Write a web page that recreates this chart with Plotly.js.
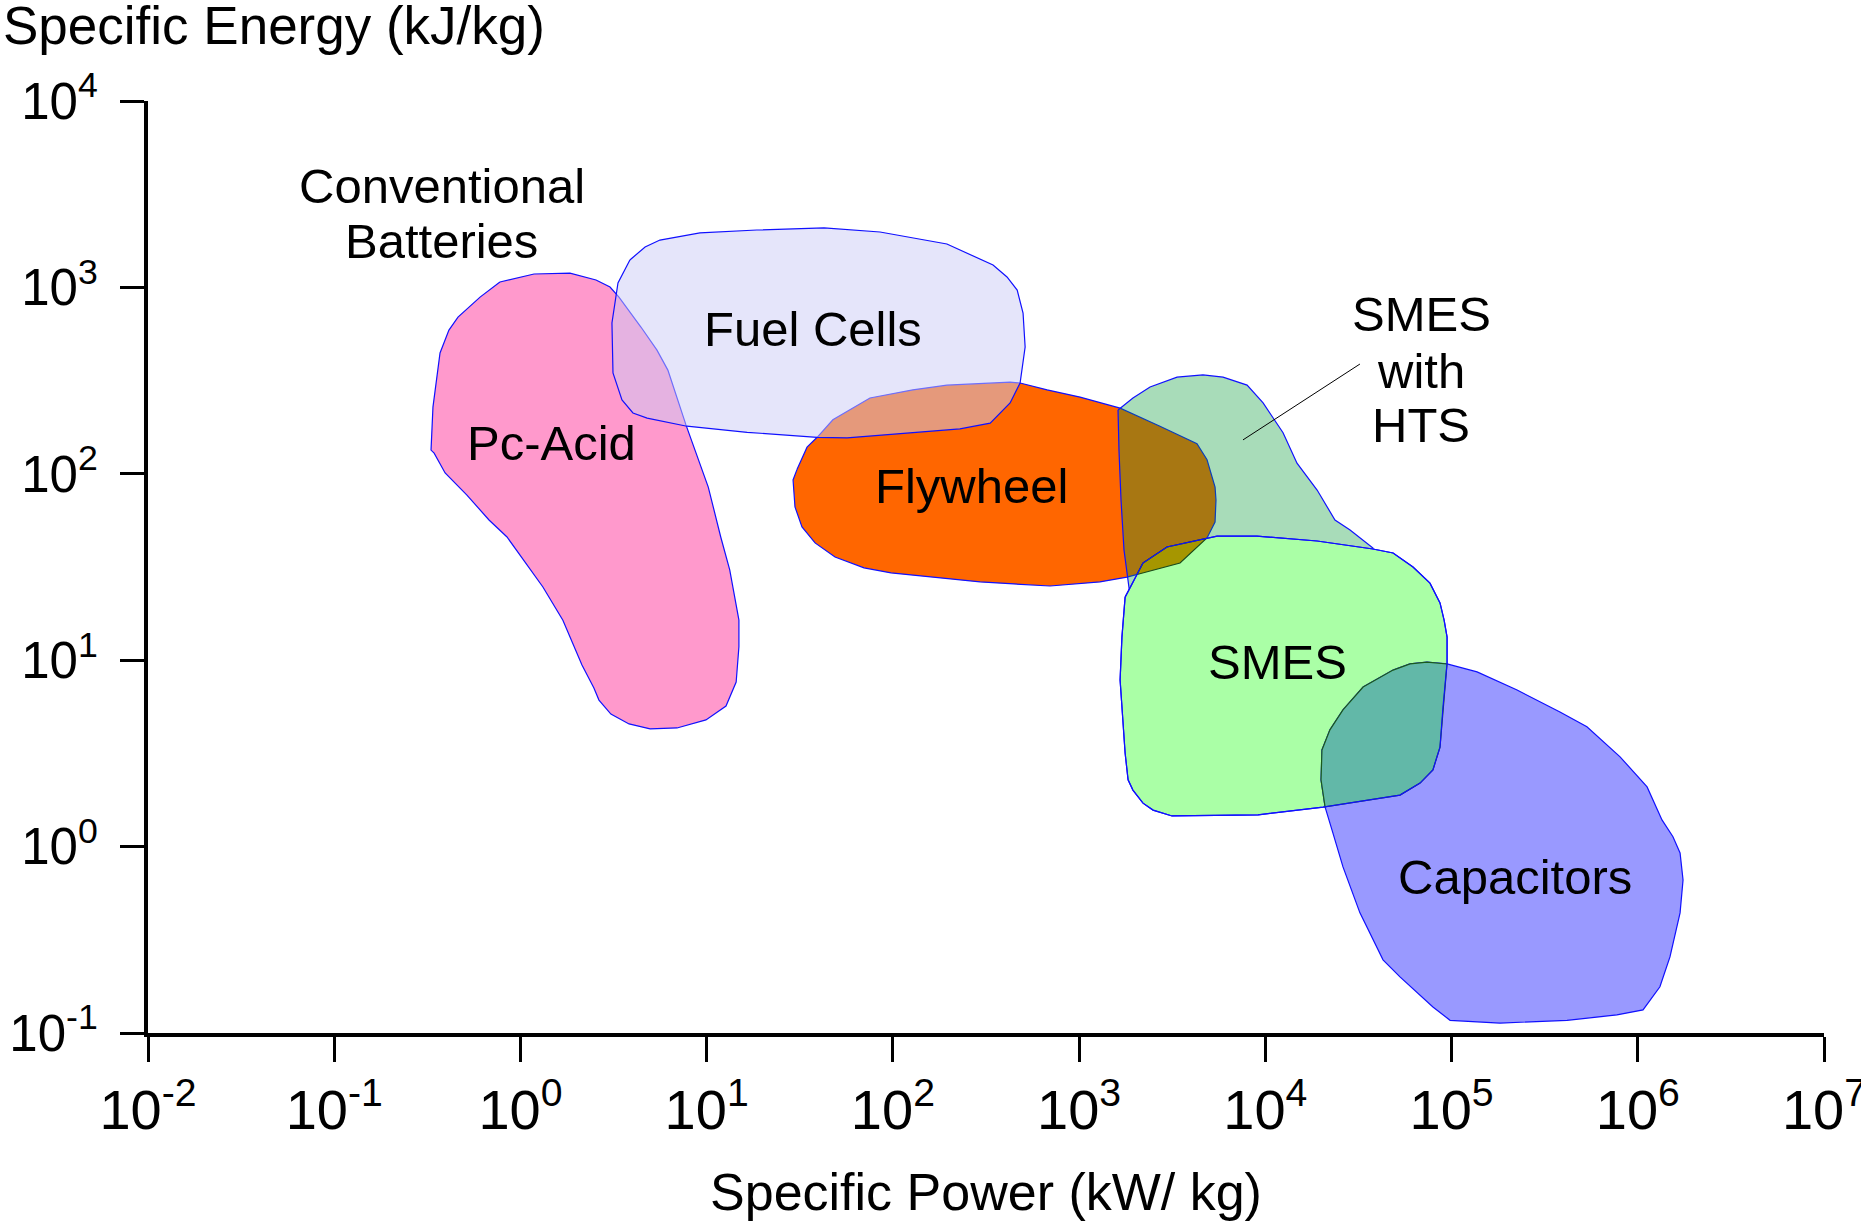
<!DOCTYPE html>
<html><head><meta charset="utf-8">
<script src="https://cdn.plot.ly/plotly-3.0.1.min.js"></script>
<style>html,body{margin:0;padding:0;background:#fff;}#chart{width:1861px;height:1221px;}</style>
</head><body><div id="chart"></div>
<script>
// Region outlines: specific power (kW/kg) and specific energy (kJ/kg)
const pcAcidPower = [0.776,1.183,1.845,2.546,3.027,3.381,4.436,5.41,6.19,7.74,10.2,11.9,13.3,14.9,14.9,14.4,12.7,9.91,6.93,4.97,3.83,3.06,2.64,2.48,2.14,1.69,1.32,0.847,0.678,0.516,0.394,0.344,0.331,0.339,0.370,0.413,0.462,0.607];
const pcAcidEnergy = [1069,1180,1194,1096,1005,887,613,461,360,183,84.9,45.8,30.5,16.4,11.8,7.64,5.68,4.78,4.33,4.28,4.55,5.14,6.11,7.10,9.42,16.4,24.7,45.8,56.5,76.9,101,129,134,228,445,590,693,887];

const fuelCellPower = [3.87,4.67,5.61,9.20,18.6,42.7,85.3,152,195,345,410,465,500,513,482,426,333,229,128,56.8,39.2,16.5,7.83,4.79,4.02,3.51,3.14,3.10,3.34];
const fuelCellEnergy = [1403,1648,1795,1959,2032,2084,1982,1795,1710,1318,1138,968,729,479,307,240,187,174,166,156,157,167,180,199,212,249,348,644,1057];

const flywheelPower = [30.5,34.6,39.2,47.6,75.3,128,195,426,482,673,1012,1660,2717,4295,4864,5370,5433,5370,4864,3483,1807,1294,698,294,97.7,70.0,48.9,38.2,32.5,29.8,29.1];
const flywheelEnergy = [105,139,157,195,255,282,299,310,307,282,258,225,180,145,119,84.9,72.3,55.1,45.3,33.2,27.9,26.3,25.0,26.3,29.4,31.3,35.8,42.6,51.9,66.4,92.7];

const smesHtsPower = [1618,1946,2404,3357,4624,5929,7980,9727,12450,14790,18970,23660,28510,37840,37840,15350,3076,1875,1742,1679,1637];
const smesHtsEnergy = [220,255,292,330,339,330,299,240,166,114,81.8,56.5,49.9,40.0,36.2,28.6,23.8,22.4,39.0,72.3,134];

const smesPower = [1766,2203,2965,5508,9016,18970,37840,48530,62090,76560,86700,91200,94620,94620,89950,86700,79430,67760,52840,35160,20420,9141,3155,2495,2203,1945,1832,1766,1698,1660,1698];
const smesEnergy = [21.8,33.2,40.5,46.3,46.3,43.6,39.5,37.6,31.6,25.9,20.3,16.4,13.3,9.66,5.61,3.42,2.58,2.19,1.89,1.78,1.63,1.48,1.46,1.57,1.71,2.01,2.28,3.18,5.61,7.83,13.3];

const capacitorPower = [59840,73790,94620,137100,224900,382000,533300,803500,1122000,1268000,1349000,1545000,1687000,1750000,1687000,1489000,1315000,1067000,772700,416900,182000,98170,79430,52840,42850,32210,26120,23070,20940,19910,20140,22230,26120,33500,48530];
const capacitorEnergy = [9.55,9.77,9.55,8.65,6.92,5.27,4.39,3.03,2.09,1.57,1.39,1.13,0.925,0.662,0.441,0.256,0.177,0.133,0.125,0.117,0.113,0.117,0.138,0.200,0.247,0.441,0.778,1.18,1.63,2.28,3.30,4.23,5.41,7.18,8.85];

// Leader line for "SMES with HTS"
const leaderPower = [32210, 7586];
const leaderEnergy = [388, 152];

// Region labels
const labelText = ["Conventional","Batteries","Fuel Cells","Pc-Acid","Flywheel","SMES","with","HTS","SMES","Capacitors"];
const labelPower = [0.377,0.377,37.2,1.476,263,68550,68550,68550,11560,219300];
const labelEnergy = [3483,1774,598,146,85.5,716,354,183,9.77,0.687];

// Ticks
const powerTicks = [0.01,0.1,1,10,100,1e3,1e4,1e5,1e6,1e7];
const powerTickText = ["10<sup>-2</sup>","10<sup>-1</sup>","10<sup>0</sup>","10<sup>1</sup>","10<sup>2</sup>","10<sup>3</sup>","10<sup>4</sup>","10<sup>5</sup>","10<sup>6</sup>","10<sup>7</sup>"];
const energyTicks = [0.1,1,10,100,1000,10000];
const energyTickText = ["10<sup>-1</sup>","10<sup>0</sup>","10<sup>1</sup>","10<sup>2</sup>","10<sup>3</sup>","10<sup>4</sup>"];

// ---------- helpers ----------
const LOG = v => Math.log10(v);
function toLogPts(xs, ys){ return xs.map((x,i)=>[LOG(x), LOG(ys[i])]); }
function hull(pts){
  const p = pts.slice().sort((a,b)=>a[0]-b[0]||a[1]-b[1]);
  const cr = (o,a,b)=>(a[0]-o[0])*(b[1]-o[1])-(a[1]-o[1])*(b[0]-o[0]);
  const lo=[], up=[];
  for(const q of p){ while(lo.length>=2 && cr(lo[lo.length-2],lo[lo.length-1],q)<=0) lo.pop(); lo.push(q); }
  for(let i=p.length-1;i>=0;i--){ const q=p[i]; while(up.length>=2 && cr(up[up.length-2],up[up.length-1],q)<=0) up.pop(); up.push(q); }
  up.pop(); lo.pop();
  return lo.concat(up);
}
function clipPoly(subject, clip){
  let out = subject.slice();
  for(let i=0;i<clip.length;i++){
    if(!out.length) break;
    const a = clip[i], b = clip[(i+1)%clip.length];
    const inside = p => (b[0]-a[0])*(p[1]-a[1]) - (b[1]-a[1])*(p[0]-a[0]) >= 0;
    const inter = (p,q) => {
      const a1=b[1]-a[1], b1=a[0]-b[0], c1=a1*a[0]+b1*a[1];
      const a2=q[1]-p[1], b2=p[0]-q[0], c2=a2*p[0]+b2*p[1];
      const det=a1*b2-a2*b1;
      return [(b2*c1-b1*c2)/det, (a1*c2-a2*c1)/det];
    };
    const inp = out; out = [];
    for(let j=0;j<inp.length;j++){
      const cur=inp[j], prev=inp[(j+inp.length-1)%inp.length];
      const ci=inside(cur), pi=inside(prev);
      if(ci){ if(!pi) out.push(inter(prev,cur)); out.push(cur); }
      else if(pi){ out.push(inter(prev,cur)); }
    }
  }
  return out;
}
function region(xs, ys, fill, lineColor){
  const t = {type:'scatter', mode:'lines', x: xs.concat([xs[0]]), y: ys.concat([ys[0]]),
    line:{color:lineColor, width:1.2}, hoverinfo:'skip', showlegend:false};
  if(fill){ t.fill='toself'; t.fillcolor=fill; } else { t.fill='none'; }
  return t;
}
function patch(subX, subY, clipX, clipY, fill, lineColor){
  const pts = clipPoly(toLogPts(subX, subY), hull(toLogPts(clipX, clipY)));
  const xs = pts.map(p=>Math.pow(10,p[0])), ys = pts.map(p=>Math.pow(10,p[1]));
  return region(xs, ys, fill, lineColor);
}

const BLUE = '#1010ff';
const traces = [
  region(pcAcidPower, pcAcidEnergy, '#FF99CC', BLUE),
  region(flywheelPower, flywheelEnergy, '#FF6600', BLUE),
  region(fuelCellPower, fuelCellEnergy, 'rgba(204,204,245,0.5)', BLUE),
  region(smesHtsPower, smesHtsEnergy, 'rgba(4,154,53,0.346)', BLUE),
  region(smesPower, smesEnergy, '#AAFFA6', BLUE),
  region(capacitorPower, capacitorEnergy, '#9999FF', BLUE),
  patch(capacitorPower, capacitorEnergy, smesPower, smesEnergy, '#62B8A8', '#1a5a1a'),
  patch(flywheelPower, flywheelEnergy, smesPower, smesEnergy, '#A69600', '#1a4a1a'),
  region(smesPower, smesEnergy, null, BLUE),
  {type:'scatter', mode:'lines', x: leaderPower, y: leaderEnergy, line:{color:'#000', width:1}, hoverinfo:'skip', showlegend:false}
];

const annotations = labelText.map((t,i)=>({
  text:t, x:LOG(labelPower[i]), y:LOG(labelEnergy[i]), xref:'x', yref:'y',
  showarrow:false, xanchor:'center', yanchor:'middle',
  font:{family:'Liberation Sans, Arial, sans-serif', size:49, color:'#000'}
}));
annotations.push({
  text:'Specific Energy (kJ/kg)', xref:'paper', yref:'paper', x:-0.0875, y:1.081,
  xanchor:'left', yanchor:'middle', showarrow:false,
  font:{family:'Liberation Sans, Arial, sans-serif', size:53, color:'#000'}
});

const layout = {
  width:1861, height:1221,
  margin:{l:148, r:37, t:101, b:188},
  paper_bgcolor:'#ffffff', plot_bgcolor:'#ffffff',
  showlegend:false,
  font:{family:'Liberation Sans, Arial, sans-serif', color:'#000'},
  xaxis:{
    type:'log', range:[-2,7], tickmode:'array', tickvals:powerTicks, ticktext:powerTickText,
    ticks:'outside', ticklen:25, tickwidth:3, tickcolor:'#000',
    showline:true, linewidth:4, linecolor:'#000', showgrid:false, zeroline:false,
    tickfont:{family:'Liberation Sans Narrow, Arial Narrow, Liberation Sans, sans-serif', size:56, color:'#000'},
    ticklabeloverflow:'allow',
    title:{text:'Specific Power (kW/ kg)', font:{family:'Liberation Sans, Arial, sans-serif', size:52, color:'#000'}, standoff:34},
    automargin:false, fixedrange:true
  },
  yaxis:{
    type:'log', range:[-1,4], tickmode:'array', tickvals:energyTicks, ticktext:energyTickText,
    ticks:'outside', ticklen:24, tickwidth:3, tickcolor:'#000',
    showline:true, linewidth:4, linecolor:'#000', showgrid:false, zeroline:false,
    tickfont:{family:'Liberation Sans, Arial, sans-serif', size:51, color:'#000'},
    ticklabelstandoff:12, ticklabeloverflow:'allow',
    automargin:false, fixedrange:true
  },
  annotations: annotations
};

Plotly.newPlot('chart', traces, layout, {displayModeBar:false, staticPlot:true});
</script>
</body></html>
